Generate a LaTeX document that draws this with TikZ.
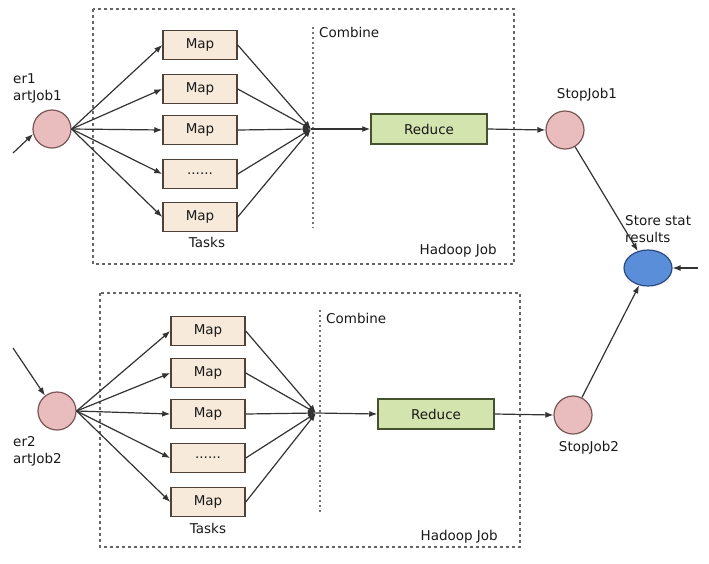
\documentclass[tikz,border=0pt]{standalone}
\usepackage{fontspec}
\setmainfont{DejaVu Sans}
\usetikzlibrary{positioning, arrows.meta, shapes.geometric}
\definecolor{mapfill}{HTML}{F8EADB}
\definecolor{mapdraw}{HTML}{4E4238}
\definecolor{redfill}{HTML}{D4E4AE}
\definecolor{reddraw}{HTML}{45522E}
\definecolor{jobfill}{HTML}{E9BDBD}
\definecolor{jobdraw}{HTML}{7A5555}
\definecolor{storefill}{HTML}{5A8ED8}
\definecolor{storedraw}{HTML}{2C4A80}
\newcommand\tskdots{......}
\tikzset{
	every node/.append style={
		font=\fontsize{13.5}{17}\selectfont,
		text=black!90,
	},
	labe/.append style={
		align = left,
		inner sep=0pt,
	},
	jobbox/.append style={
		draw=black!60,
		line width=1.4pt,
		dash pattern=on 3pt off 3pt,
	},
	combline/.append style={
		draw=black!55,
		line width=1.4pt,
		dash pattern=on 2pt off 3pt,
	},
	maptask/.append style={
		draw=mapdraw,
		fill=mapfill,
		line width=1.5pt,
		minimum width=74pt,
		minimum height=29pt,
		inner sep=0pt,
	},
	reducer/.append style={
		draw=reddraw,
		fill=redfill,
		line width=1.5pt,
		minimum width=116pt,
		minimum height=30pt,
		inner sep=0pt,
	},
	jobpt/.append style={
		circle,
		draw=jobdraw,
		fill=jobfill,
		line width=1.2pt,
		minimum size=38pt,
		inner sep=0pt,
	},
	storept/.append style={
		ellipse,
		draw=storedraw,
		fill=storefill,
		line width=1.2pt,
		minimum width=48pt,
		minimum height=36pt,
		inner sep=0pt,
	},
	flow/.append style={
		->,
		draw=black!80,
		line width=1.2pt,
	},
}

\begin{document}
\begin{tikzpicture}[x=1pt, y=-1pt, >={Latex[length=8pt,width=6pt]}]
\useasboundingbox (0,0) rectangle (709,563);

% first job
\draw[jobbox] (93,9) rectangle (514,264);
\draw[combline] (313,27) -- (313,228);
\node(comb1)[labe, anchor=west] at (319,32) {Combine};
\node(job1)[labe, anchor=east] at (497,251) {Hadoop Job};
\node(tasks1) at (207,242) {Tasks};

\node(start1)[jobpt] at (52,129) {};
\node(startlbl1)[labe, anchor=west] at (13,88) {er1\\artJob1};
\coordinate(in1) at (13,153);
\draw[flow] (in1) -- (start1.195);

\coordinate(merge1) at (311,129);
\foreach \ii/\yy/\txt in {1/45/Map, 2/89/Map, 3/130/Map, 4/174/\tskdots, 5/217/Map} {
	\node(mapA\ii)[maptask] at (200,\yy) {\txt};
	\draw[flow] (start1.east) -- (mapA\ii.west);
	\draw[flow] (mapA\ii.east) -- (merge1);
};

\node(reduce1)[reducer] at (429,129) {Reduce};
\draw[flow] (merge1) -- (reduce1.west);

\node(stop1)[jobpt] at (565,130) {};
\node(stoplbl1) at (587,95) {StopJob1};
\draw[flow] (reduce1.east) -- (stop1.west);

% second job
\draw[jobbox] (100,293) rectangle (520,547);
\draw[combline] (320,310) -- (320,513);
\node(comb2)[labe, anchor=west] at (326,318) {Combine};
\node(job2)[labe, anchor=east] at (498,537) {Hadoop Job};
\node(tasks2) at (208,528) {Tasks};

\node(start2)[jobpt] at (57,411) {};
\node(startlbl2)[labe, anchor=west] at (13,451) {er2\\artJob2};
\coordinate(in2) at (13,348);
\draw[flow] (in2) -- (start2.128);

\coordinate(merge2) at (316,413);
\foreach \ii/\yy/\txt in {1/331/Map, 2/373/Map, 3/414/Map, 4/458/\tskdots, 5/502/Map} {
	\node(mapB\ii)[maptask] at (208,\yy) {\txt};
	\draw[flow] (start2.east) -- (mapB\ii.west);
	\draw[flow] (mapB\ii.east) -- (merge2);
};

\node(reduce2)[reducer] at (436,414) {Reduce};
\draw[flow] (merge2) -- (reduce2.west);

\node(stop2)[jobpt] at (573,415) {};
\node(stoplbl2) at (589,448) {StopJob2};
\draw[flow] (reduce2.east) -- (stop2.west);

% results
\node(store)[storept] at (648,268) {};
\node(storelbl)[labe, anchor=west] at (625,229) {Store stat\\results};
\draw[flow] (stop1) -- (store);
\draw[flow] (stop2) -- (store);
\coordinate(ext) at (698,268);
\draw[flow] (ext) -- (store.east);
\end{tikzpicture}
\end{document}
